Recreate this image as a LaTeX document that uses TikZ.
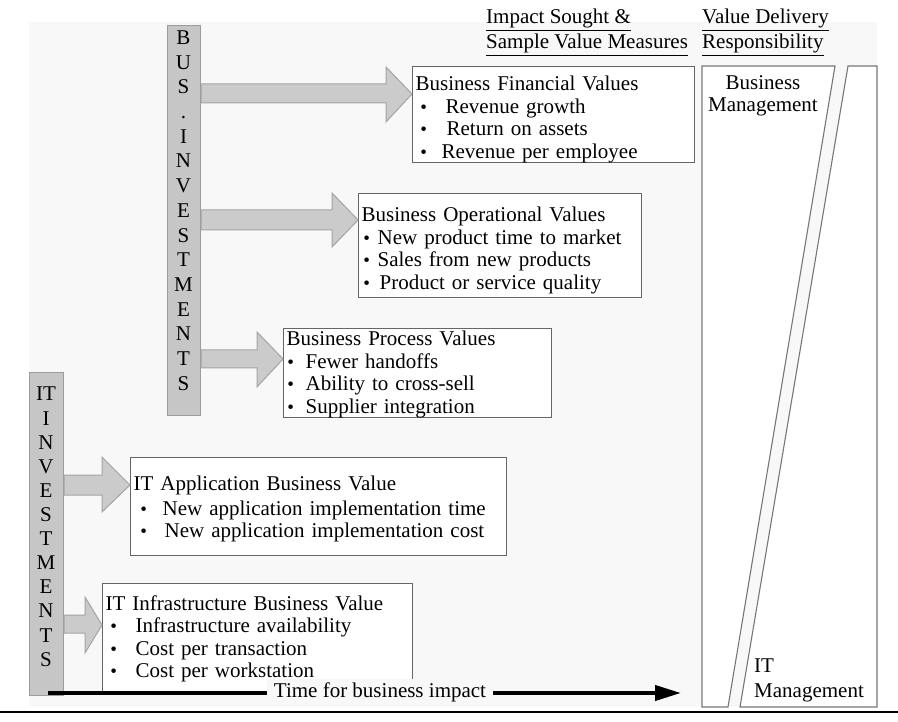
\documentclass[tikz,border=0pt]{standalone}
\usepackage{fontspec}
\setmainfont{Liberation Serif}
\usetikzlibrary{arrows.meta}

\definecolor{paper}{HTML}{F8F8F8}
\definecolor{barfill}{HTML}{C6C6C6}
\definecolor{barline}{HTML}{9C9C9C}
\definecolor{arrfill}{HTML}{CBCBCB}
\definecolor{arrline}{HTML}{A4A4A4}
\definecolor{boxline}{HTML}{666666}
\definecolor{wedgeline}{HTML}{777777}

% bullet glyph, a little smaller than the text
\newcommand\bulletglyph{\raisebox{0pt}{\fontsize{19}{19}\selectfont\textbullet}}
% #1 = bullet centre offset, #2 = item text offset (both from the text margin)
\newcommand\bul[2]{\makebox[#2][l]{\hspace*{\dimexpr#1-3.3pt\relax}\bulletglyph}}
% taller first line pushes a centred block downwards
\newcommand\topgap[1]{\rule{0pt}{#1}}

\begin{document}
\begin{tikzpicture}[x=1pt,y=-1pt,
  font=\fontsize{21}{22.5}\selectfont,
  invbar/.style={draw=barline, line width=1pt, fill=barfill, anchor=north west,
    inner sep=0pt},
  blockarrow/.style={draw=arrline, line width=1pt, fill=arrfill, line join=miter},
  valbox/.style={draw=boxline, line width=1.3pt, fill=white, anchor=north west,
    align=left, inner xsep=3pt, inner ysep=0pt},
  letter/.style={inner sep=0pt, anchor=base},
  hdr/.style={inner sep=0pt, anchor=base west},
  wedge/.style={draw=wedgeline, line width=1.1pt, fill=white, line join=miter},
  timeline/.style={line width=4pt, -{Triangle[length=26pt,width=15pt]}},
]
\useasboundingbox (0,0) rectangle (898,722);
\fill[paper] (29,22) rectangle (877,707);

% responsibility wedges
\draw[wedge] (702,707) -- (702,66) -- (835,66) -- (728,707) -- cycle;
\draw[wedge] (848,66) -- (877,66) -- (877,707) -- (740,707) -- cycle;
\node[align=center, inner sep=0pt] (bizmgmt) at (763,96) {Business\\Management};
\node[hdr] (itmgmt1) at (754,672) {IT};
\node[hdr] (itmgmt2) at (754,697) {Management};

% column headings
\node[hdr] (hA1) at (486,24) {\underline{Impact Sought \&}};
\node[hdr] (hA2) at (486,49) {\underline{Sample Value Measures}};
\node[hdr] (hB1) at (702,24) {\underline{Value Delivery}};
\node[hdr] (hB2) at (702,49) {\underline{Responsibility}};

% investment bars
\node[invbar, minimum width=33pt, minimum height=390pt] (busbar) at (167,25) {};
\node[invbar, minimum width=34pt, minimum height=323pt] (itbar) at (29,372) {};
\foreach \ch [count=\i from 0] in {B,U,S,.,I,N,V,E,S,T,M,E,N,T,S}
  \node[letter] (bus\i) at (183.5,{44.5+24.7*\i}) {\ch};
\foreach \ch [count=\i from 0] in {IT,I,N,V,E,S,T,M,E,N,T,S}
  \node[letter] (it\i) at (46,{401+24.1*\i}) {\ch};

% value boxes
\node[valbox, minimum width=282pt, minimum height=95pt, text width=276pt] (fin) at (412,66)
  {\topgap{24pt}Business Financial Values\\
   \bul{8pt}{30pt}Revenue growth\\
   \bul{8pt}{31pt}Return on assets\\
   \bul{8pt}{26pt}Revenue per employee};
\node[valbox, minimum width=283pt, minimum height=104pt, text width=277pt] (ops) at (358,193)
  {\topgap{24pt}Business Operational Values\\
   \bul{5pt}{16pt}New product time to market\\
   \bul{5pt}{16pt}Sales from new products\\
   \bul{5pt}{18pt}Product or service quality};
\node[valbox, minimum width=268pt, minimum height=89pt, text width=262pt] (proc) at (283,328)
  {\topgap{17pt}Business Process Values\\
   \bul{4pt}{19pt}Fewer handoffs\\
   \bul{4pt}{19pt}Ability to cross-sell\\
   \bul{4pt}{19pt}Supplier integration};
\node[valbox, minimum width=376pt, minimum height=98pt, text width=370pt] (app) at (130,457)
  {\topgap{20pt}IT Application Business Value\\[2pt]
   \bul{10pt}{29pt}New application implementation time\\
   \bul{10pt}{31pt}New application implementation cost};
\node[valbox, minimum width=310pt, minimum height=110pt, text width=304pt] (infra) at (102,583)
  {IT Infrastructure Business Value\\
   \bul{8pt}{30pt}Infrastructure availability\\
   \bul{8pt}{30pt}Cost per transaction\\
   \bul{8pt}{30pt}Cost per workstation};

% block arrows from the bars to the boxes
\draw[blockarrow] (busbar.east |- 0,84) -- (386,84) -- (386,67) -- (fin.west |- 0,94)
  -- (386,122) -- (386,103) -- (busbar.east |- 0,103) -- cycle;
\draw[blockarrow] (busbar.east |- 0,210) -- (332,210) -- (332,193) -- (ops.west |- 0,220)
  -- (332,247) -- (332,230) -- (busbar.east |- 0,230) -- cycle;
\draw[blockarrow] (busbar.east |- 0,350) -- (257,350) -- (257,332) -- (proc.west |- 0,359)
  -- (257,387) -- (257,368) -- (busbar.east |- 0,368) -- cycle;
\draw[blockarrow] (itbar.east |- 0,475) -- (102,475) -- (102,457) -- (app.west |- 0,485)
  -- (102,512) -- (102,495) -- (itbar.east |- 0,495) -- cycle;
\draw[blockarrow] (itbar.east |- 0,615) -- (85,615) -- (85,597) -- (infra.west |- 0,625)
  -- (85,653) -- (85,633) -- (itbar.east |- 0,633) -- cycle;

% time axis
\coordinate (tstart) at (48,693);
\coordinate (tend) at (681,693);
\draw[timeline] (tstart) -- (tend);
\node[fill=paper, inner xsep=7pt, inner ysep=3pt] (tlabel) at (380,692) {Time for business impact};

% rule under the figure
\draw[line width=2pt] (0,712) -- (898,712);
\end{tikzpicture}
\end{document}
